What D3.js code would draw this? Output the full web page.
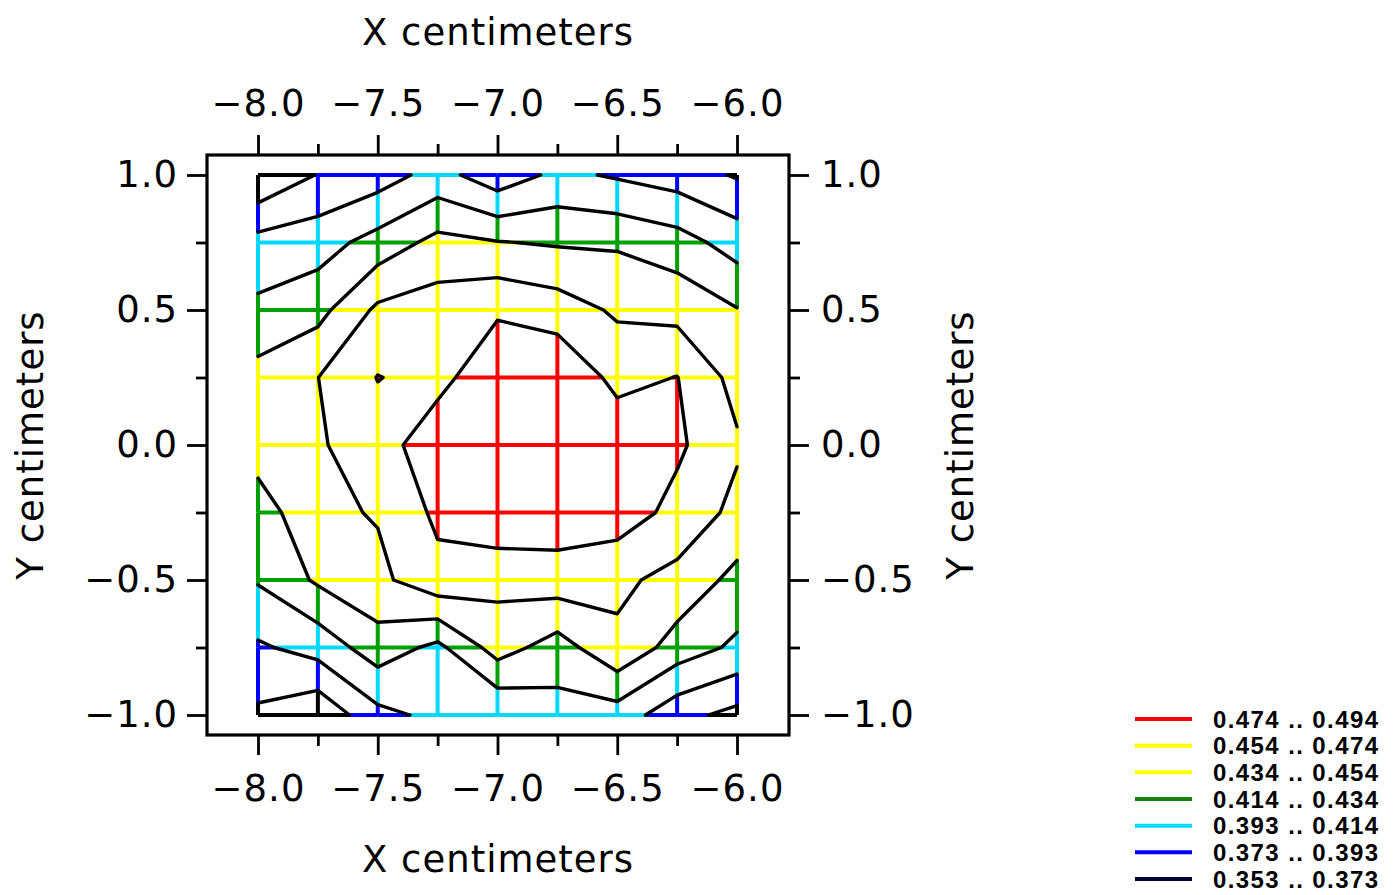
<!DOCTYPE html>
<html><head><meta charset="utf-8">
<script src="https://cdn.jsdelivr.net/npm/d3@7/dist/d3.min.js"></script>
<style>body{margin:0;background:#fff}svg{display:block}</style>
</head><body><svg id="c" width="1399" height="895"></svg>
<script>
// ---------------- data ----------------
const xValues = [-8, -7.75, -7.5, -7.25, -7, -6.75, -6.5, -6.25, -6];
const yValues = [1, 0.75, 0.5, 0.25, 0, -0.25, -0.5, -0.75, -1];
// rows follow yValues (top to bottom), columns follow xValues
const row0 = [0.354, 0.374, 0.383, 0.401, 0.380, 0.398, 0.3905, 0.383, 0.371];
const row1 = [0.400, 0.405, 0.422, 0.440, 0.435, 0.432, 0.4314, 0.423, 0.405];
const row2 = [0.4186, 0.4274, 0.458, 0.4637, 0.4715, 0.464, 0.451, 0.4475, 0.435];
const row3 = [0.441, 0.4538, 0.4746, 0.468, 0.488, 0.492, 0.468, 0.4745, 0.447];
const row4 = [0.4436, 0.4517, 0.4652, 0.486, 0.494, 0.491, 0.488, 0.4776, 0.4566];
const row5 = [0.424, 0.4495, 0.4555, 0.478, 0.4905, 0.4857, 0.4851, 0.4678, 0.4486];
const row6 = [0.4159, 0.437, 0.449, 0.468, 0.4594, 0.4648, 0.458, 0.448, 0.428];
const row7 = [0.3901, 0.401, 0.425, 0.409, 0.4429, 0.4248, 0.450, 0.4254, 0.410];
const row8 = [0.3693, 0.357, 0.3872, 0.398, 0.3949, 0.4065, 0.405, 0.3795, 0.367];
const values = [row0, row1, row2, row3, row4, row5, row6, row7, row8];
const levels = [0.353, 0.373, 0.393, 0.414, 0.434, 0.454, 0.474, 0.494];
const classColors = ['#000000', '#0000ff', '#00d8ff', '#00a000', '#ffff00', '#ffff00', '#ff0000'];
const legendLineColors = ['#000033', '#0000ff', '#00d8ff', '#108010', '#ffff00', '#ffff00', '#ff0000'];
const xMajor = [-8, -7.5, -7, -6.5, -6];
const xMinor = [-7.75, -7.25, -6.75, -6.25];
const yMajor = [1, 0.5, 0, -0.5, -1];
const yMinor = [0.75, 0.25, -0.25, -0.75];
const xTitle = 'X centimeters';
const yTitle = 'Y centimeters';

// ---------------- setup ----------------
const svg = d3.select('#c');
const x = d3.scaleLinear().domain([-8, -6]).range([258, 737]);
const y = d3.scaleLinear().domain([-1, 1]).range([715, 175]);
const frame = {left: 207, right: 789, top: 155, bottom: 735};
const interior = levels.slice(1, -1);
const colorOf = d3.scaleThreshold().domain(interior).range(classColors);
const FONT = 'DejaVu Sans';

// ---------------- colored grid ----------------
const gridG = svg.append('g').attr('stroke-width', 4).attr('stroke-linecap', 'square');
function drawSeg(xa, ya, va, xb, yb, vb) {
  const ts = [0];
  interior.forEach(t => {
    if ((va - t) * (vb - t) < 0) ts.push((t - va) / (vb - va));
  });
  ts.push(1);
  ts.sort((a, b) => a - b);
  for (let k = 0; k < ts.length - 1; k++) {
    const t0 = ts[k], t1 = ts[k + 1];
    const vm = va + (vb - va) * (t0 + t1) / 2;
    gridG.append('line')
      .attr('x1', x(xa + (xb - xa) * t0)).attr('y1', y(ya + (yb - ya) * t0))
      .attr('x2', x(xa + (xb - xa) * t1)).attr('y2', y(ya + (yb - ya) * t1))
      .attr('stroke', colorOf(vm))
      .attr('stroke-linecap', 'butt');
  }
}
const nr = yValues.length, nc = xValues.length;
for (let r = 0; r < nr; r++) for (let c = 0; c < nc - 1; c++)
  drawSeg(xValues[c], yValues[r], values[r][c], xValues[c + 1], yValues[r], values[r][c + 1]);
for (let c = 0; c < nc; c++) for (let r = 0; r < nr - 1; r++)
  drawSeg(xValues[c], yValues[r], values[r][c], xValues[c], yValues[r + 1], values[r + 1][c]);

// ---------------- contours (marching squares) ----------------
const contourG = svg.append('g').attr('fill', 'none').attr('stroke', '#000')
  .attr('stroke-width', 3.4).attr('stroke-linejoin', 'round').attr('stroke-linecap', 'round');
const line = d3.line().x(p => x(p[0])).y(p => y(p[1]));
interior.forEach(level => {
  const pts = {};
  const segs = [];
  function hPoint(r, c) { // edge between (r,c) and (r,c+1)
    const id = 'h' + r + '_' + c;
    if (!pts[id]) {
      const a = values[r][c], b = values[r][c + 1], t = (level - a) / (b - a);
      pts[id] = [xValues[c] + (xValues[c + 1] - xValues[c]) * t, yValues[r]];
    }
    return id;
  }
  function vPoint(r, c) { // edge between (r,c) and (r+1,c)
    const id = 'v' + r + '_' + c;
    if (!pts[id]) {
      const a = values[r][c], b = values[r + 1][c], t = (level - a) / (b - a);
      pts[id] = [xValues[c], yValues[r] + (yValues[r + 1] - yValues[r]) * t];
    }
    return id;
  }
  for (let r = 0; r < nr - 1; r++) for (let c = 0; c < nc - 1; c++) {
    const tl = values[r][c], tr = values[r][c + 1], bl = values[r + 1][c], br = values[r + 1][c + 1];
    const A = [tl >= level, tr >= level, br >= level, bl >= level];
    const e = {};
    if (A[0] !== A[1]) e.top = hPoint(r, c);
    if (A[1] !== A[2]) e.right = vPoint(r, c + 1);
    if (A[3] !== A[2]) e.bottom = hPoint(r + 1, c);
    if (A[0] !== A[3]) e.left = vPoint(r, c);
    const keys = Object.keys(e);
    if (keys.length === 2) segs.push([e[keys[0]], e[keys[1]]]);
    else if (keys.length === 4) {
      const centerAbove = (tl + tr + bl + br) / 4 >= level;
      if (A[0] === centerAbove) { segs.push([e.top, e.right]); segs.push([e.left, e.bottom]); }
      else { segs.push([e.top, e.left]); segs.push([e.right, e.bottom]); }
    }
  }
  // chain segments into polylines
  const adj = {};
  segs.forEach((s, i) => { (adj[s[0]] = adj[s[0]] || []).push(i); (adj[s[1]] = adj[s[1]] || []).push(i); });
  const used = new Array(segs.length).fill(false);
  function walk(start, segIdx) {
    const chain = [start];
    let cur = start, si = segIdx;
    while (si !== undefined && !used[si]) {
      used[si] = true;
      const s = segs[si];
      const nxt = s[0] === cur ? s[1] : s[0];
      chain.push(nxt);
      cur = nxt;
      si = (adj[cur] || []).find(k => !used[k]);
    }
    return chain;
  }
  const order = Object.keys(adj).sort((a, b) => adj[a].length - adj[b].length);
  order.forEach(id => {
    adj[id].forEach(si => {
      if (!used[si]) {
        const chain = walk(id, si);
        contourG.append('path').attr('d', line(chain.map(k => pts[k])));
      }
    });
  });
});

// ---------------- frame & axes ----------------
svg.append('rect').attr('x', frame.left).attr('y', frame.top)
  .attr('width', frame.right - frame.left).attr('height', frame.bottom - frame.top)
  .attr('fill', 'none').attr('stroke', '#000').attr('stroke-width', 3.2);

const fmt = d3.format('.1f');
function styleAxis(g) {
  g.select('.domain').remove();
  g.selectAll('line').attr('stroke', '#000').attr('stroke-width', 2.8);
  g.attr('font-family', FONT).attr('font-size', 37).attr('fill', '#000');
  g.selectAll('text').attr('fill', '#000').attr('letter-spacing', 1);
}
const MAJ = 20, MIN = 11;
svg.append('g').attr('transform', `translate(0,${frame.top})`)
  .call(d3.axisTop(x).tickValues(xMajor).tickSize(MAJ).tickPadding(19).tickFormat(fmt)).call(styleAxis);
svg.append('g').attr('transform', `translate(0,${frame.top})`)
  .call(d3.axisTop(x).tickValues(xMinor).tickSize(MIN).tickFormat('')).call(styleAxis);
svg.append('g').attr('transform', `translate(0,${frame.bottom})`)
  .call(d3.axisBottom(x).tickValues(xMajor).tickSize(MAJ).tickPadding(20).tickFormat(fmt)).call(styleAxis);
svg.append('g').attr('transform', `translate(0,${frame.bottom})`)
  .call(d3.axisBottom(x).tickValues(xMinor).tickSize(MIN).tickFormat('')).call(styleAxis);
svg.append('g').attr('transform', `translate(${frame.left},0)`)
  .call(d3.axisLeft(y).tickValues(yMajor).tickSize(MAJ).tickPadding(9).tickFormat(fmt)).call(styleAxis);
svg.append('g').attr('transform', `translate(${frame.left},0)`)
  .call(d3.axisLeft(y).tickValues(yMinor).tickSize(MIN).tickFormat('')).call(styleAxis);
svg.append('g').attr('transform', `translate(${frame.right},0)`)
  .call(d3.axisRight(y).tickValues(yMajor).tickSize(MAJ).tickPadding(12).tickFormat(fmt)).call(styleAxis);
svg.append('g').attr('transform', `translate(${frame.right},0)`)
  .call(d3.axisRight(y).tickValues(yMinor).tickSize(MIN).tickFormat('')).call(styleAxis);

// titles
const midX = (frame.left + frame.right) / 2, midY = (frame.top + frame.bottom) / 2;
svg.append('text').attr('x', midX).attr('y', 45).attr('text-anchor', 'middle')
  .attr('font-family', FONT).attr('font-size', 37).attr('letter-spacing', 1).text(xTitle);
svg.append('text').attr('x', midX).attr('y', 872).attr('text-anchor', 'middle')
  .attr('font-family', FONT).attr('font-size', 37).attr('letter-spacing', 1).text(xTitle);
svg.append('text').attr('transform', `translate(43,${midY}) rotate(-90)`).attr('text-anchor', 'middle')
  .attr('font-family', FONT).attr('font-size', 37).attr('letter-spacing', 1).text(yTitle);
svg.append('text').attr('transform', `translate(973,${midY}) rotate(-90)`).attr('text-anchor', 'middle')
  .attr('font-family', FONT).attr('font-size', 37).attr('letter-spacing', 1).text(yTitle);

// ---------------- legend ----------------
const f3 = d3.format('.3f');
const legendItems = d3.range(classColors.length).map(i => ({
  color: legendLineColors[i], label: `${f3(levels[i])} .. ${f3(levels[i + 1])}`
})).reverse();
const lg = svg.append('g');
const ly = d3.scalePoint().domain(d3.range(legendItems.length)).range([719, 879]);
legendItems.forEach((d, i) => {
  lg.append('line').attr('x1', 1135).attr('x2', 1192).attr('y1', ly(i)).attr('y2', ly(i))
    .attr('stroke', d.color).attr('stroke-width', 4);
  lg.append('text').attr('x', 1213).attr('y', ly(i) + 8.5).attr('font-family', 'Liberation Sans')
    .attr('font-weight', 'bold').attr('font-size', 24).attr('letter-spacing', 1.4).text(d.label);
});
</script>
</body></html>
